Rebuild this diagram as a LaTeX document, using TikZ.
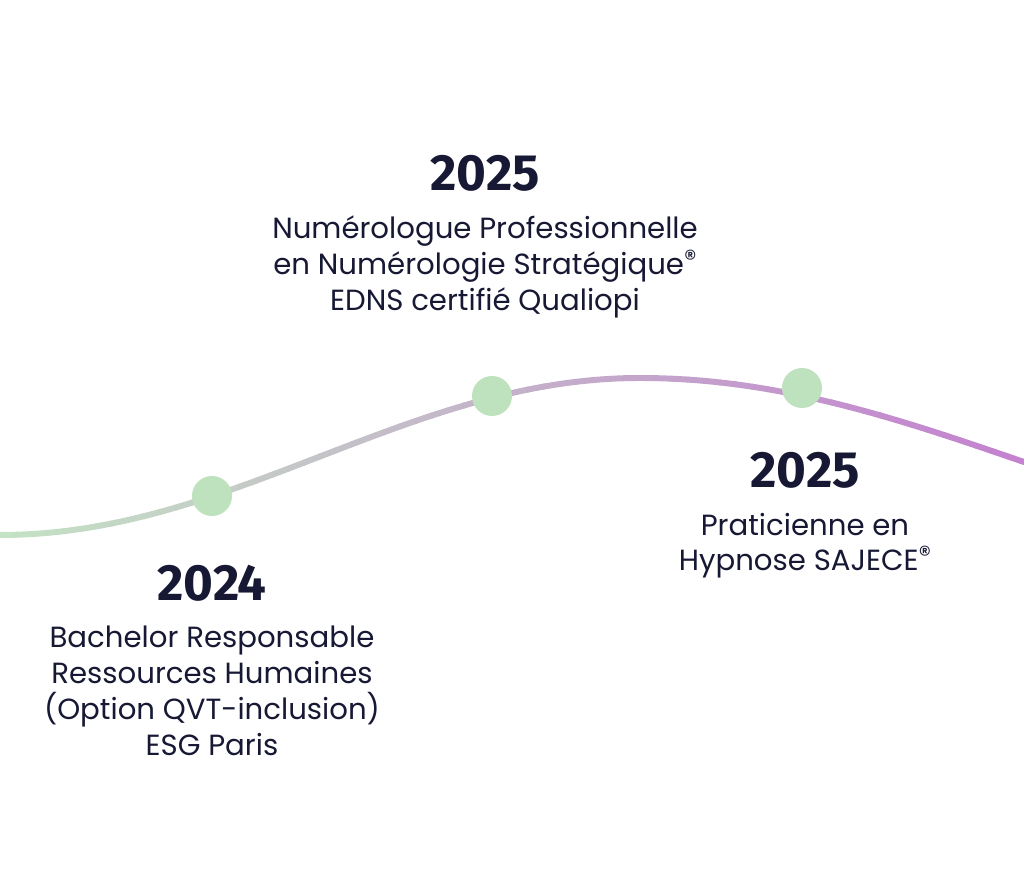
\documentclass[tikz,border=0pt]{standalone}
\usepackage{fontspec}
\setmainfont{Poppins}
\newfontfamily\yearfont{Fira Sans}
\usetikzlibrary{positioning}
\definecolor{ink}{RGB}{22,24,52}
\definecolor{mint}{RGB}{190,226,190}
\definecolor{leaf}{RGB}{196,226,196}
\definecolor{lilac}{RGB}{196,128,208}
\tikzset{
  dot/.style={circle,fill=mint,inner sep=0pt,minimum size=0.40cm},
  year/.style={font=\yearfont\fontsize{14.5}{16}\selectfont\bfseries,text=ink},
  info/.style={font=\fontsize{8.3}{10.2}\selectfont,text=ink,align=center},
  wave/.style={line width=1.7pt,line cap=round}
}
\newcommand{\regmark}{\raisebox{0.45ex}{\scriptsize ®}}
\begin{document}
\begin{tikzpicture}[x=0.01cm,y=-0.01cm]
\useasboundingbox (0,0) rectangle (1024,889);

% the curve, left part then right part
\foreach \t in {0,16,...,624}{
  \pgfmathsetmacro{\c}{\t/10.24}
  \draw[wave,color=lilac!\c!leaf,domain=\t:\t+16,samples=5,variable=\u]
    plot (\u,{378+78.5*(1-cos(0.28125*(640-\u)))});
}
\foreach \t in {640,656,...,1008}{
  \pgfmathsetmacro{\c}{\t/10.24}
  \draw[wave,color=lilac!\c!leaf,domain=\t:\t+16,samples=5,variable=\u]
    plot (\u,{378+84*(1-cos(0.234375*(\u-640)))});
}

% dots
\node[dot] (d1) at (212,496) {};
\node[dot] (d2) at (492,396) {};
\node[dot] (d3) at (802,388) {};

% texts
\node[year] (y2) at (485,173) {2025};
\node[info,below=0cm of y2] (t2) {Numérologue Professionnelle\\en Numérologie Stratégique\regmark\\EDNS certifié Qualiopi};
\node[year] (y3) at (805,470) {2025};
\node[info,below=0cm of y3] (t3) {Praticienne en\\Hypnose SAJECE\regmark};
\node[year] (y1) at (212,583) {2024};
\node[info,below=0cm of y1] (t1) {Bachelor Responsable\\Ressources Humaines\\(Option QVT-inclusion)\\ESG Paris};
\end{tikzpicture}
\end{document}
